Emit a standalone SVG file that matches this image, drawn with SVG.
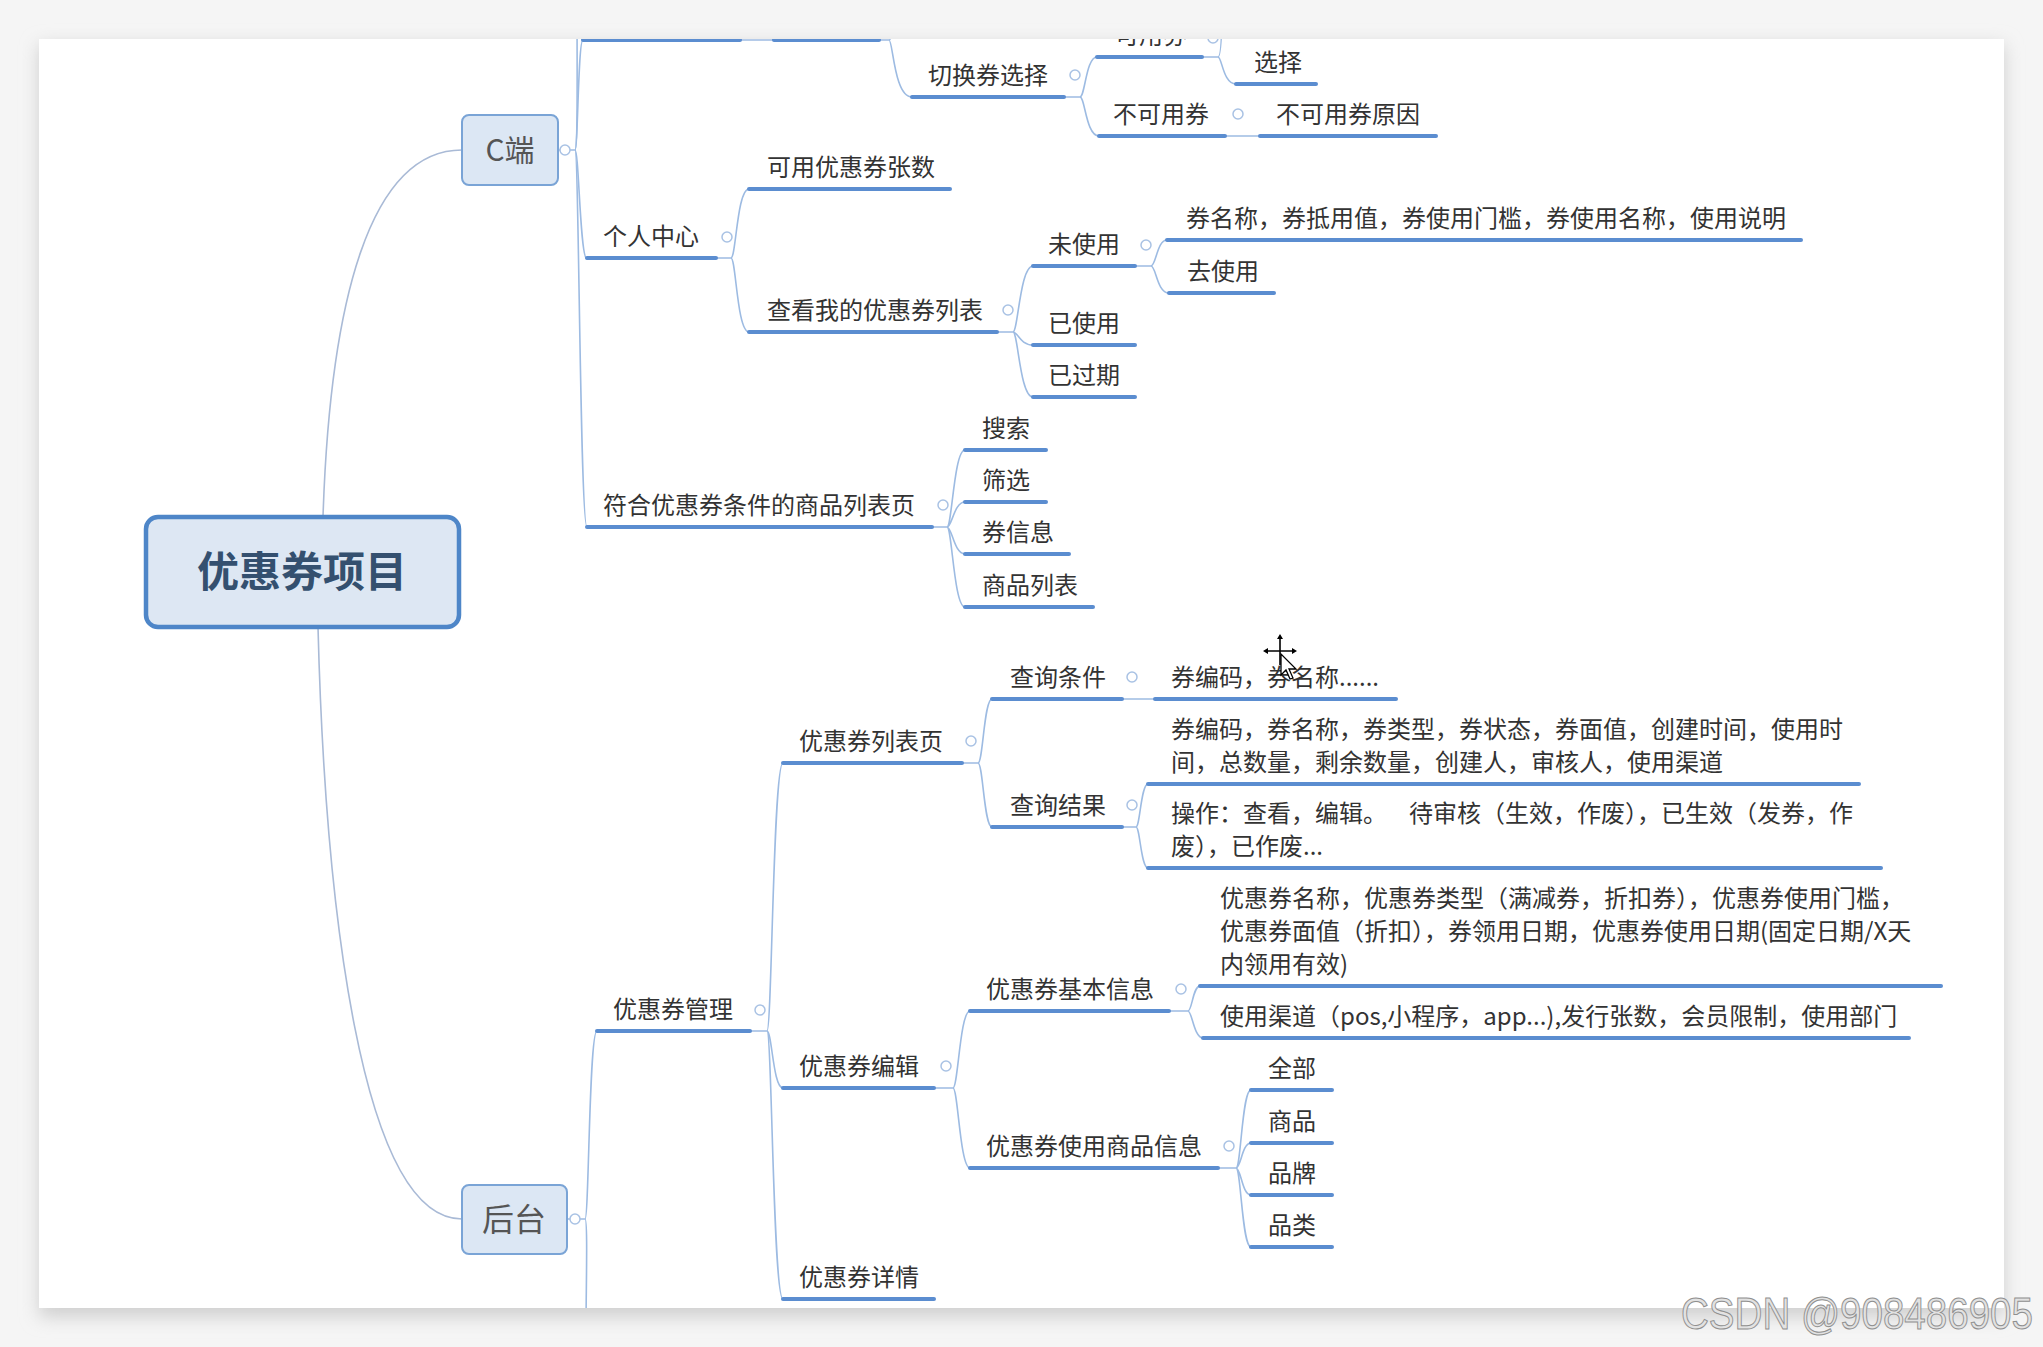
<svg xmlns="http://www.w3.org/2000/svg" width="2043" height="1347" viewBox="0 0 2043 1347">
<defs>
<style>
.t{font-family:"Noto Sans CJK SC","Noto Sans",sans-serif;font-size:24px;fill:#333}
.ul{stroke:#5b8dd0;stroke-width:4;stroke-linecap:round;fill:none}
.cn{stroke:#9dbbe2;stroke-width:1.6;fill:none}
.dot{fill:#fff;stroke:#a9c2e4;stroke-width:1.5}
.box{fill:#dce7f4;stroke:#7aa4d6;stroke-width:2}
.curve{stroke:#a9bad6;stroke-width:1.6;fill:none}
</style>
<clipPath id="cv"><rect x="39" y="39" width="1965" height="1269"/></clipPath>
<filter id="sh" x="-5%" y="-5%" width="110%" height="110%"><feGaussianBlur stdDeviation="9"/></filter>
</defs>
<rect width="2043" height="1347" fill="#f5f5f5"/>
<rect x="39" y="45" width="1965" height="1272" fill="#cfcfcf" filter="url(#sh)"/>
<rect x="39" y="39" width="1965" height="1269" fill="#fff"/>

<g clip-path="url(#cv)">
<g id="connectors">
<path class="curve" d="M323 517 C330 300 370 150 462 150"/>
<path class="curve" d="M318 627 C325 900 360 1219 462 1219"/>
<path class="cn" d="M558 150 L560 150 M570 150 L575 150"/>
<path class="cn" d="M575 150 C578 150 578 40 583 40"/>
<path class="cn" d="M575 150 C578 150 577 60 577 0"/>
<path class="cn" d="M575 150 C579 150 580 259 587 259"/>
<path class="cn" d="M575 150 C579 150 580 527 587 527"/>
<path class="cn" d="M740 40 L774 40 M879 40 L889 40"/>
<path class="cn" d="M889 40 C893 40 894 97 912 97"/>
<path class="cn" d="M889 40 C892 40 892 30 892 0"/>
<path class="cn" d="M1064 97 L1080 97 M1080 97 C1085 97 1086 57 1097 57 M1080 97 C1085 97 1086 136 1099 136"/>
<path class="cn" d="M1202 57 L1218 57 M1218 57 C1222 57 1223 84 1236 84 M1218 57 C1221 57 1222 30 1222 0"/>
<path class="cn" d="M1225 136 L1260 136"/>
<path class="cn" d="M716 258 L731 258 M731 258 C736 258 737 189 749 189 M731 258 C736 258 737 332 749 332"/>
<path class="cn" d="M997 332 L1013 332 M1013 332 C1018 332 1020 266 1033 266 M1013 332 C1018 332 1020 345 1033 345 M1013 332 C1018 332 1020 397 1033 397"/>
<path class="cn" d="M1135 266 L1151 266 M1151 266 C1156 266 1157 240 1167 240 M1151 266 C1156 266 1157 293 1169 293"/>
<path class="cn" d="M932 527 L947 527 M947 527 C952 527 954 450 965 450 M947 527 C952 527 954 502 965 502 M947 527 C952 527 954 554 965 554 M947 527 C952 527 954 607 965 607"/>
<path class="cn" d="M567 1219 L570 1219 M580 1219 L585 1219"/>
<path class="cn" d="M585 1219 C589 1219 589 1031 597 1031"/>
<path class="cn" d="M585 1219 C588 1219 586 1290 586 1330"/>
<path class="cn" d="M750 1031 L767 1031 M767 1031 C772 1031 773 763 783 763 M767 1031 C772 1031 773 1088 783 1088 M767 1031 C772 1031 773 1299 783 1299"/>
<path class="cn" d="M962 763 L978 763 M978 763 C983 763 984 699 992 699 M978 763 C983 763 984 827 992 827"/>
<path class="cn" d="M1122 699 L1155 699"/>
<path class="cn" d="M1122 827 L1136 827 M1136 827 C1140 827 1141 784 1148 784 M1136 827 C1140 827 1141 868 1148 868"/>
<path class="cn" d="M934 1088 L953 1088 M953 1088 C958 1088 960 1011 970 1011 M953 1088 C958 1088 960 1168 970 1168"/>
<path class="cn" d="M1169 1011 L1188 1011 M1188 1011 C1192 1011 1193 986 1200 986 M1188 1011 C1192 1011 1194 1038 1203 1038"/>
<path class="cn" d="M1218 1168 L1236 1168 M1236 1168 C1241 1168 1242 1090 1251 1090 M1236 1168 C1241 1168 1242 1143 1251 1143 M1236 1168 C1241 1168 1242 1195 1251 1195 M1236 1168 C1241 1168 1242 1247 1251 1247"/>
</g>

<g id="root">
<rect x="146" y="517" width="313" height="110" rx="12" fill="#dde7f3" stroke="#4e86c8" stroke-width="4.5"/>
<text x="302" y="587" text-anchor="middle" style="font-family:'Noto Sans CJK SC',sans-serif;font-size:42px;font-weight:bold;fill:#34506f">优惠券项目</text>
</g>

<g id="n-c">
<rect class="box" x="462" y="115" width="96" height="70" rx="7"/>
<text x="510" y="161" text-anchor="middle" style="font-family:'Noto Sans CJK SC',sans-serif;font-size:30px;fill:#555">C端</text>
<circle class="dot" cx="565" cy="150" r="5"/>
</g>

<g id="n-top1"><line class="ul" x1="583" y1="40" x2="740" y2="40"/></g>
<g id="n-top2"><line class="ul" x1="774" y1="40" x2="879" y2="40"/></g>

<g id="n-switch">
<text class="t" x="928" y="84">切换券选择</text>
<line class="ul" x1="912" y1="97" x2="1064" y2="97"/>
<circle class="dot" cx="1075" cy="75" r="5"/>
</g>
<g id="n-avail">
<text class="t" x="1115" y="44">可用券</text>
<line class="ul" x1="1097" y1="57" x2="1202" y2="57"/>
<circle class="dot" cx="1213" cy="38" r="5"/>
</g>
<g id="n-select">
<text class="t" x="1254" y="71">选择</text>
<line class="ul" x1="1236" y1="84" x2="1316" y2="84"/>
</g>
<g id="n-unavail">
<text class="t" x="1113" y="123">不可用券</text>
<line class="ul" x1="1099" y1="136" x2="1225" y2="136"/>
<circle class="dot" cx="1238" cy="114" r="5"/>
</g>
<g id="n-reason">
<text class="t" x="1276" y="123">不可用券原因</text>
<line class="ul" x1="1260" y1="136" x2="1436" y2="136"/>
</g>

<g id="n-personal">
<text class="t" x="603" y="245">个人中心</text>
<line class="ul" x1="587" y1="258" x2="716" y2="258"/>
<circle class="dot" cx="727" cy="237" r="5"/>
</g>
<g id="n-count">
<text class="t" x="767" y="176">可用优惠券张数</text>
<line class="ul" x1="749" y1="189" x2="950" y2="189"/>
</g>
<g id="n-mylist">
<text class="t" x="767" y="319">查看我的优惠券列表</text>
<line class="ul" x1="749" y1="332" x2="997" y2="332"/>
<circle class="dot" cx="1008" cy="310" r="5"/>
</g>
<g id="n-unused">
<text class="t" x="1048" y="253">未使用</text>
<line class="ul" x1="1033" y1="266" x2="1135" y2="266"/>
<circle class="dot" cx="1146" cy="245" r="5"/>
</g>
<g id="n-unused-info">
<text class="t" x="1186" y="227">券名称，券抵用值，券使用门槛，券使用名称，使用说明</text>
<line class="ul" x1="1167" y1="240" x2="1801" y2="240"/>
</g>
<g id="n-gouse">
<text class="t" x="1187" y="280">去使用</text>
<line class="ul" x1="1169" y1="293" x2="1274" y2="293"/>
</g>
<g id="n-used">
<text class="t" x="1048" y="332">已使用</text>
<line class="ul" x1="1033" y1="345" x2="1135" y2="345"/>
</g>
<g id="n-expired">
<text class="t" x="1048" y="384">已过期</text>
<line class="ul" x1="1033" y1="397" x2="1135" y2="397"/>
</g>

<g id="n-goods">
<text class="t" x="603" y="514">符合优惠券条件的商品列表页</text>
<line class="ul" x1="587" y1="527" x2="932" y2="527"/>
<circle class="dot" cx="943" cy="505" r="5"/>
</g>
<g id="n-search"><text class="t" x="982" y="437">搜索</text><line class="ul" x1="965" y1="450" x2="1046" y2="450"/></g>
<g id="n-filter"><text class="t" x="982" y="489">筛选</text><line class="ul" x1="965" y1="502" x2="1046" y2="502"/></g>
<g id="n-cinfo"><text class="t" x="982" y="541">券信息</text><line class="ul" x1="965" y1="554" x2="1069" y2="554"/></g>
<g id="n-glist"><text class="t" x="982" y="594">商品列表</text><line class="ul" x1="965" y1="607" x2="1093" y2="607"/></g>

<g id="n-admin">
<rect class="box" x="462" y="1185" width="105" height="69" rx="7"/>
<text x="514" y="1231" text-anchor="middle" style="font-family:'Noto Sans CJK SC',sans-serif;font-size:32px;fill:#555">后台</text>
<circle class="dot" cx="575" cy="1219" r="5"/>
</g>
<g id="n-manage">
<text class="t" x="613" y="1018">优惠券管理</text>
<line class="ul" x1="597" y1="1031" x2="750" y2="1031"/>
<circle class="dot" cx="760" cy="1010" r="5"/>
</g>
<g id="n-listpage">
<text class="t" x="799" y="750">优惠券列表页</text>
<line class="ul" x1="783" y1="763" x2="962" y2="763"/>
<circle class="dot" cx="971" cy="741" r="5"/>
</g>
<g id="n-query">
<text class="t" x="1010" y="686">查询条件</text>
<line class="ul" x1="992" y1="699" x2="1122" y2="699"/>
<circle class="dot" cx="1132" cy="677" r="5"/>
</g>
<g id="n-query-val">
<text class="t" x="1171" y="686">券编码，券名称......</text>
<line class="ul" x1="1155" y1="699" x2="1396" y2="699"/>
</g>
<g id="n-result">
<text class="t" x="1010" y="814">查询结果</text>
<line class="ul" x1="992" y1="827" x2="1122" y2="827"/>
<circle class="dot" cx="1132" cy="805" r="5"/>
</g>
<g id="n-result-cols">
<text class="t" x="1171" y="738">券编码，券名称，券类型，券状态，券面值，创建时间，使用时</text>
<text class="t" x="1171" y="771">间，总数量，剩余数量，创建人，审核人，使用渠道</text>
<line class="ul" x1="1148" y1="784" x2="1859" y2="784"/>
</g>
<g id="n-result-ops">
<text class="t" x="1171" y="822">操作：查看，编辑。<tspan x="1409">待审核（生效，作废），已生效（发券，作</tspan></text>
<text class="t" x="1171" y="855">废），已作废...</text>
<line class="ul" x1="1148" y1="868" x2="1881" y2="868"/>
</g>
<g id="n-edit">
<text class="t" x="799" y="1075">优惠券编辑</text>
<line class="ul" x1="783" y1="1088" x2="934" y2="1088"/>
<circle class="dot" cx="946" cy="1066" r="5"/>
</g>
<g id="n-basic">
<text class="t" x="986" y="998">优惠券基本信息</text>
<line class="ul" x1="970" y1="1011" x2="1169" y2="1011"/>
<circle class="dot" cx="1181" cy="989" r="5"/>
</g>
<g id="n-basic-1">
<text class="t" x="1220" y="907">优惠券名称，优惠券类型（满减券，折扣券），优惠券使用门槛，</text>
<text class="t" x="1220" y="940">优惠券面值（折扣），券领用日期，优惠券使用日期(固定日期/X天</text>
<text class="t" x="1220" y="973">内领用有效)</text>
<line class="ul" x1="1200" y1="986" x2="1941" y2="986"/>
</g>
<g id="n-basic-2">
<text class="t" x="1220" y="1025">使用渠道（pos,小程序，app...),发行张数，会员限制，使用部门</text>
<line class="ul" x1="1203" y1="1038" x2="1909" y2="1038"/>
</g>
<g id="n-goodsinfo">
<text class="t" x="986" y="1155">优惠券使用商品信息</text>
<line class="ul" x1="970" y1="1168" x2="1218" y2="1168"/>
<circle class="dot" cx="1229" cy="1146" r="5"/>
</g>
<g id="n-all"><text class="t" x="1268" y="1077">全部</text><line class="ul" x1="1251" y1="1090" x2="1332" y2="1090"/></g>
<g id="n-goods2"><text class="t" x="1268" y="1130">商品</text><line class="ul" x1="1251" y1="1143" x2="1332" y2="1143"/></g>
<g id="n-brand"><text class="t" x="1268" y="1182">品牌</text><line class="ul" x1="1251" y1="1195" x2="1332" y2="1195"/></g>
<g id="n-category"><text class="t" x="1268" y="1234">品类</text><line class="ul" x1="1251" y1="1247" x2="1332" y2="1247"/></g>
<g id="n-detail">
<text class="t" x="799" y="1286">优惠券详情</text>
<line class="ul" x1="783" y1="1299" x2="934" y2="1299"/>
</g>

<g id="cursor">
<path d="M1266 651 L1294 651 M1280 637 L1280 665" stroke="#000" stroke-width="1.6"/>
<path d="M1263 651 L1268 648 L1268 654 Z M1297 651 L1292 648 L1292 654 Z M1280 634 L1277 639 L1283 639 Z" fill="#000"/>
<path d="M1281 654 L1281 675 L1286 670 L1290 679 L1293 678 L1289 669 L1296 669 Z" fill="#fff" stroke="#000" stroke-width="1.3"/>
</g>
</g>

<text x="1681" y="1329" textLength="352" lengthAdjust="spacingAndGlyphs" style="font-family:'Liberation Sans',sans-serif;font-size:44px;fill:#e2e2e2;stroke:#8f8f8f;stroke-width:1">CSDN @908486905</text>
</svg>
